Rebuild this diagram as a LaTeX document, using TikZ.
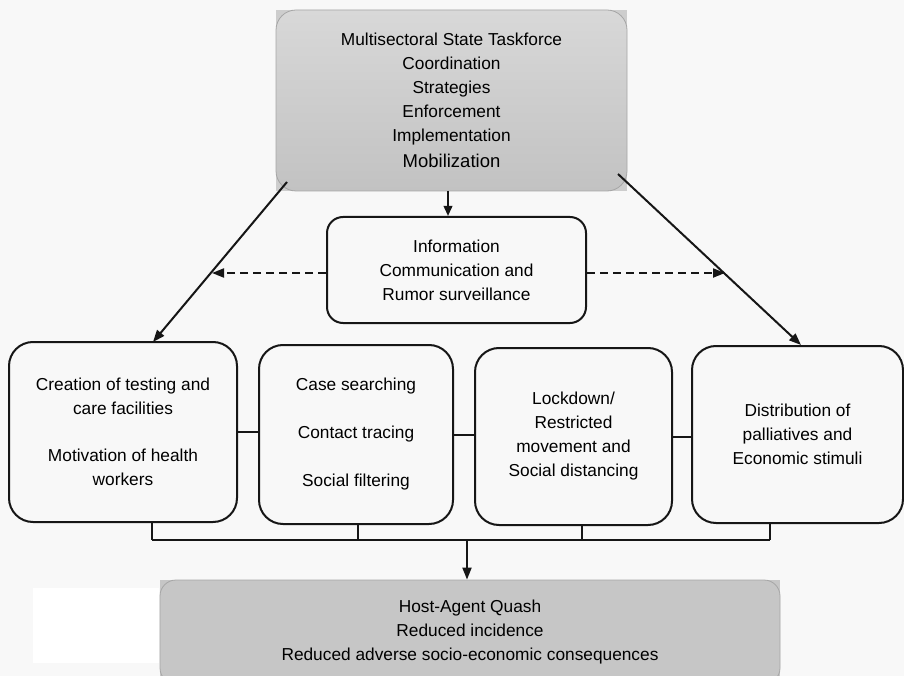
\documentclass[tikz,border=0pt]{standalone}
\usepackage{fontspec}
\setmainfont{Liberation Sans}
\usetikzlibrary{arrows.meta,calc}
\definecolor{bg}{HTML}{F8F8F8}
\definecolor{ink}{HTML}{161616}
\definecolor{graybox}{HTML}{C6C6C6}
\definecolor{graytop}{HTML}{D8D8D8}
\definecolor{graybot}{HTML}{C2C2C2}
\definecolor{grayback}{HTML}{CDCDCD}
\begin{document}
\begin{tikzpicture}[x=1pt,y=-1pt,
  every node/.style={font=\fontsize{17.3}{24}\selectfont, align=center, inner sep=0pt},
  wbox/.style={draw=ink, line width=2pt, rounded corners=24pt, fill=bg},
  gbox/.style={draw=gray!70, line width=0.8pt, rounded corners=20pt},
  conn/.style={draw=ink, line width=2pt},
  arr/.style={conn, -{Triangle[length=12pt,width=9pt]}},
  darr/.style={conn, dash pattern=on 8pt off 5pt, -{Triangle[length=12pt,width=9pt]}}
]
\useasboundingbox (0,0) rectangle (904,676);
\clip (0,0) rectangle (904,676);
\fill[bg] (0,0) rectangle (904,676);
\fill[white] (33,588) rectangle (159,663);

% top box
\fill[grayback] (276,10) rectangle (627,191);
\node[gbox, top color=graytop, bottom color=graybot, minimum width=351pt, minimum height=181pt]
  (top) at (451.5,100.5)
  {Multisectoral State Taskforce\\Coordination\\Strategies\\Enforcement\\Implementation\\[2pt]{\fontsize{18.5}{24}\selectfont Mobilization}};

% middle box
\node[wbox, rounded corners=16pt, minimum width=259pt, minimum height=106pt]
  (mid) at (456.5,270)
  {Information\\Communication and\\Rumor surveillance};

% four boxes
\node[wbox, minimum width=228pt, minimum height=180pt] (b1) at (123,432)
  {Creation of testing and\\care facilities\\[23pt]Motivation of health\\workers};
\node[wbox, minimum width=194pt, minimum height=179pt] (b2) at (356,434.5)
  {Case searching\\[24pt]Contact tracing\\[24pt]Social filtering};
\node[wbox, minimum width=197pt, minimum height=177pt] (b3) at (573.5,436.5)
  {Lockdown/\\Restricted\\movement and\\Social distancing};
\node[wbox, minimum width=211pt, minimum height=177pt] (b4) at (797.5,434.5)
  {Distribution of\\palliatives and\\Economic stimuli};

% bottom box
\fill[graybox] (160,580) rectangle (780,676);
\node[gbox, rounded corners=16pt, fill=graybox, minimum width=620pt, minimum height=104pt]
  (bot) at (470,632)
  {Host-Agent Quash\\Reduced incidence\\Reduced adverse socio-economic consequences};

% coordinates
\coordinate (t1) at (287,182);
\coordinate (e1) at (153,342);
\coordinate (t2) at (618,174);
\coordinate (e2) at (801,345);
\coordinate (ta) at (448,191);
\coordinate (dl) at (212,273);
\coordinate (dr) at (725,273);
\coordinate (s1) at (152,540);
\coordinate (s2) at (358,540);
\coordinate (s3) at (582,540);
\coordinate (s4) at (770,540);
\coordinate (bus) at (467,540);

% arrows from top
\draw[arr] (t1) -- (e1);
\draw[arr] (t2) -- (e2);
\draw[conn, -{Triangle[length=10pt,width=8.5pt]}] (ta) -- (ta |- mid.north);

% dashed arrows
\draw[darr] ([yshift=-3pt]mid.west) -- (dl);
\draw[darr] ([yshift=-3pt]mid.east) -- (dr);

% links between boxes
\draw[conn] (b1.east) -- (b1.east -| b2.west);
\draw[conn] (b2.east) -- (b2.east -| b3.west);
\draw[conn] (b3.east) -- (b3.east -| b4.west);

% bus
\draw[conn] (s1 |- b1.south) -- (s1);
\draw[conn] (s2 |- b2.south) -- (s2);
\draw[conn] (s3 |- b3.south) -- (s3);
\draw[conn] (s4 |- b4.south) -- (s4);
\draw[conn] (s1) -- (s4);
\draw[arr] (bus) -- (bus |- bot.north);
\end{tikzpicture}
\end{document}
